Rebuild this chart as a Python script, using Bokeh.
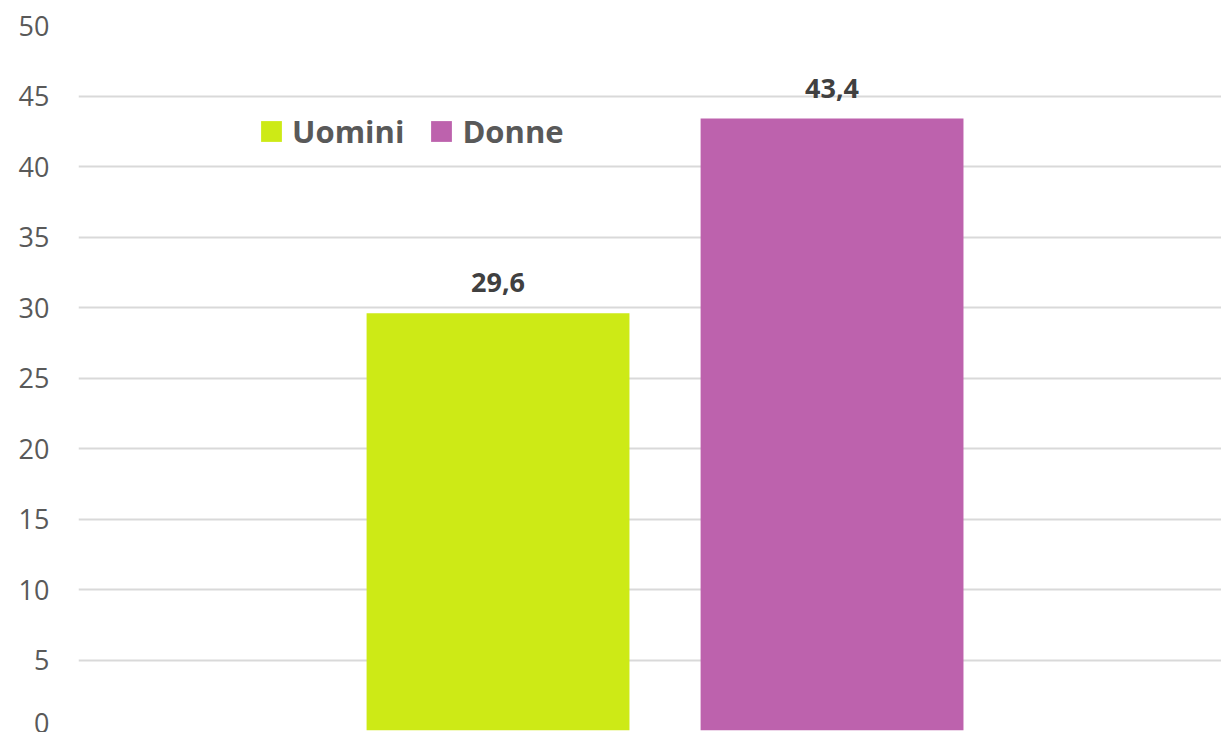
from bokeh.plotting import figure
from bokeh.models import ColumnDataSource, Legend, LegendItem, LabelSet, Range1d, FixedTicker
from bokeh.core.properties import value
from bokeh.embed import file_html
from bokeh.resources import INLINE

# data
series = ["Uomini", "Donne"]
values = [29.6, 43.4]
labels = ["29,6", "43,4"]
colors = ["#cdea16", "#bd62ad"]
positions = [0, 1]
y_ticks = [0, 5, 10, 15, 20, 25, 30, 35, 40, 45, 50]

src = ColumnDataSource(dict(x=positions, top=values, lab=labels))

p = figure(width=1221, height=732, output_backend="svg", toolbar_location=None,
           x_range=Range1d(-1.256, 2.166), y_range=Range1d(0, 50),
           min_border_left=78, min_border_right=0, min_border_top=25, min_border_bottom=2)
p.outline_line_color = None
p.xaxis.visible = False
p.xgrid.visible = False
p.ygrid.grid_line_color = "#d9d9d9"
p.ygrid.grid_line_width = 2
p.yaxis.ticker = FixedTicker(ticks=y_ticks)
p.yaxis.axis_line_color = None
p.yaxis.major_tick_line_color = None
p.yaxis.minor_tick_line_color = None
p.yaxis.major_tick_in = 0
p.yaxis.major_tick_out = 0
p.yaxis.major_label_standoff = 29
p.yaxis.major_label_text_font = "Open Sans"
p.yaxis.major_label_text_font_size = "27px"
p.yaxis.major_label_text_color = "#595959"

renderers = []
for i in range(len(series)):
    s = ColumnDataSource(dict(x=[positions[i]], top=[values[i]]))
    r = p.vbar(x="x", top="top", width=0.787, bottom=0, source=s,
               fill_color=colors[i], line_color=None)
    renderers.append(r)

lbl = LabelSet(x="x", y="top", text="lab", source=src, text_align="center",
               text_baseline="alphabetic", y_offset=21,
               text_font=value("Open Sans"), text_font_size="27px", text_font_style="bold",
               text_color="#404040")
p.add_layout(lbl)

legend = Legend(items=[LegendItem(label=series[i], renderers=[renderers[i]]) for i in range(len(series))],
                orientation="horizontal", location=(180, 578),
                label_text_font="Open Sans", label_text_font_size="31px",
                label_text_font_style="bold", label_text_color="#595959",
                glyph_width=26, glyph_height=26, label_standoff=8, spacing=24,
                padding=0, margin=0, border_line_color=None, background_fill_alpha=0)
p.add_layout(legend)

open("out.html", "w").write(file_html(p, INLINE))
